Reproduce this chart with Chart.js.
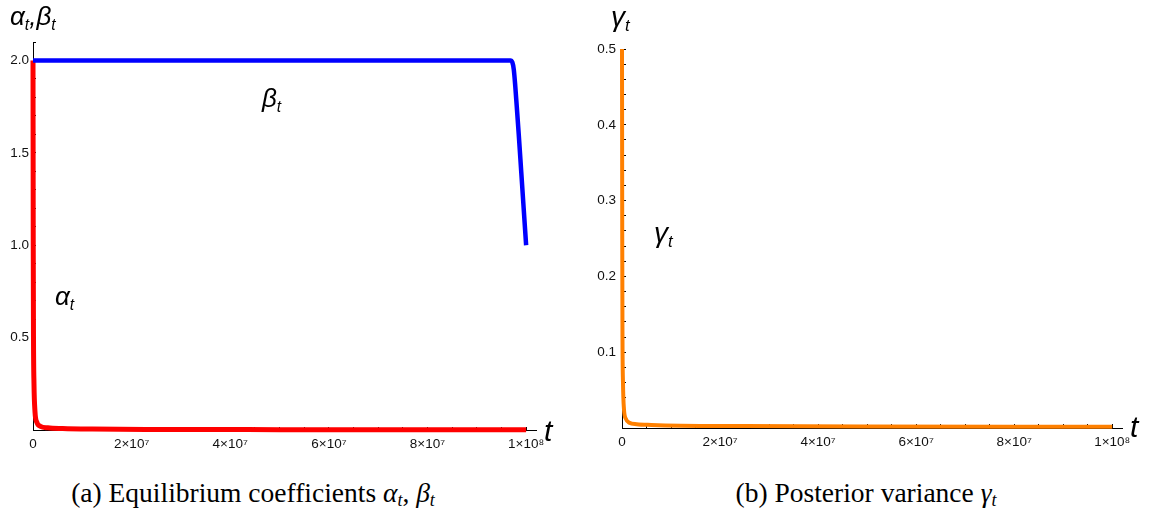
<!DOCTYPE html>
<html lang="en">
<head>
    <meta charset="UTF-8">
    <meta name="viewport" content="width=device-width, initial-scale=1.0">
    <title>Equilibrium coefficients and posterior variance</title>
    <script src="https://cdn.jsdelivr.net/npm/chart.js"></script>
    <style>
        body { margin: 0; background: #fff; }
        .page { position: relative; width: 1151px; height: 515px; overflow: hidden; font-family: "Liberation Sans", Arial, sans-serif; }
        .plot { position: absolute; top: 0; }
        .lbl { position: absolute; font-style: italic; line-height: 1; color: #000; white-space: nowrap; }
        .s { font-size: 0.6em; position: relative; top: 0.3em; }
        .cap { position: absolute; top: 479px; font-family: "Liberation Serif", "DejaVu Serif", serif; font-size: 27.5px; line-height: 1; text-align: center; white-space: nowrap; color: #000; }
        .cap .s { font-size: 0.65em; top: 0.25em; }
    </style>
</head>
<body>
<div class="page">
    <!-- (a) alpha / beta -->
    <div class="plot" style="left:0px;"><canvas id="coefChart" width="560" height="455"></canvas></div>
    <!-- (b) gamma -->
    <div class="plot" style="left:580px;"><canvas id="varChart" width="571" height="455"></canvas></div>

    <div class="lbl" style="left:10px; top:3px; font-size:26px;">α<span class="s">t</span>,β<span class="s">t</span></div>
    <div class="lbl" style="left:262px; top:85px; font-size:26px;">β<span class="s">t</span></div>
    <div class="lbl" style="left:55px; top:283px; font-size:26px;">α<span class="s">t</span></div>
    <div class="lbl" style="left:544px; top:416px; font-size:30px;">t</div>

    <div class="lbl" style="left:611px; top:3px; font-size:28px;">γ<span class="s">t</span></div>
    <div class="lbl" style="left:654px; top:219px; font-size:28px;">γ<span class="s">t</span></div>
    <div class="lbl" style="left:1130px; top:412px; font-size:30px;">t</div>

    <div class="cap" style="left:0px; width:506px;">(a) Equilibrium coefficients <i>α<span class="s">t</span></i>, <i>β<span class="s">t</span></i></div>
    <div class="cap" style="left:621px; width:490px;">(b) Posterior variance <i>γ<span class="s">t</span></i></div>
</div>

<script>
    // tick labels
    const xTickValues = [0, 2e7, 4e7, 6e7, 8e7, 1e8];
    const xTickLabels = ['0', '2×10⁷', '4×10⁷', '6×10⁷', '8×10⁷', '1×10⁸'];
    const xMinorStep = 5e6;
    const coefTickValues = [0.5, 1.0, 1.5, 2.0];
    const coefTickLabels = ['0.5', '1.0', '1.5', '2.0'];
    const varTickValues = [0.1, 0.2, 0.3, 0.4, 0.5];
    const varTickLabels = ['0.1', '0.2', '0.3', '0.4', '0.5'];

    // series
    const tAlpha = [0, 5e4, 1e5, 2e5, 4e5, 8e5, 1.5e6, 3e6, 6e6, 1.2e7, 2.5e7, 5e7, 1e8];
    const alphaValues = [2.0, 1.0, 0.5, 0.25, 0.1, 0.04, 0.02, 0.012, 0.008, 0.005, 0.003, 0.002, 0.001];
    const tBeta = [0, 9.5e7, 9.68e7, 9.72e7, 9.75e7, 9.78e7, 9.81e7, 9.85e7, 9.9e7, 9.95e7, 1e8];
    const betaValues = [2.0, 2.0, 2.0, 1.99, 1.95, 1.86, 1.75, 1.6, 1.4, 1.2, 1.0];
    const tGamma = [0, 5e4, 1e5, 2e5, 4e5, 8e5, 1.5e6, 3e6, 6e6, 1.2e7, 2.5e7, 5e7, 1e8];
    const gammaValues = [0.5, 0.25, 0.12, 0.06, 0.025, 0.012, 0.007, 0.005, 0.004, 0.003, 0.0025, 0.002, 0.0015];

    const toPoints = (xs, ys) => xs.map((x, i) => ({ x: x, y: ys[i] }));

    function labelFor(values, labels, v) {
        const i = values.findIndex(a => Math.abs(a - v) <= 1e-9 * Math.max(1, Math.abs(a)));
        return i >= 0 ? labels[i] : '';
    }

    function lineSet(data, color, width) {
        return {
            data: data,
            borderColor: color,
            borderWidth: width,
            pointRadius: 0,
            fill: false,
            clip: false,
            cubicInterpolationMode: 'monotone',
            borderJoinStyle: 'round'
        };
    }

    function makeOptions(c) {
        const font = { family: c.fontFamily, size: c.fontSize };
        const lastX = xTickValues[xTickValues.length - 1];
        return {
            responsive: false,
            animation: false,
            events: [],
            layout: { padding: c.padding },
            plugins: { legend: { display: false }, tooltip: { enabled: false } },
            scales: {
                x: {
                    type: 'linear', min: 0, max: lastX * 1.02, z: c.z,
                    border: { display: true, color: '#000', width: 1 },
                    grid: { drawOnChartArea: false, drawTicks: true, tickLength: c.tickLen, tickColor: '#000' },
                    ticks: {
                        autoSkip: false, maxRotation: 0, padding: c.xPad,
                        color: '#111', font: font,
                        callback: v => labelFor(xTickValues, xTickLabels, v)
                    },
                    // minor ticks every 5e6 up to the last labelled value
                    afterBuildTicks: s => {
                        const n = Math.round(lastX / xMinorStep);
                        s.ticks = Array.from({ length: n + 1 }, (_, i) => ({ value: i * xMinorStep }));
                    },
                    afterFit: s => { s.height = c.xHeight; }
                },
                y: {
                    type: 'linear', min: 0, max: c.yMax, z: c.z,
                    border: { display: true, color: '#000', width: 1 },
                    grid: { drawOnChartArea: false, drawTicks: true, tickLength: c.tickLen, tickColor: '#000' },
                    ticks: {
                        stepSize: c.yStep, autoSkip: false, padding: c.yPad,
                        color: '#111', font: font,
                        callback: v => labelFor(c.yValues, c.yLabels, v)
                    },
                    afterFit: s => { s.width = c.yWidth; }
                }
            }
        };
    }

    new Chart(document.getElementById('coefChart'), {
        type: 'line',
        data: {
            datasets: [
                lineSet(toPoints(tBeta, betaValues), '#0000ff', 4.5),
                lineSet(toPoints(tAlpha, alphaValues), '#ff0000', 5)
            ]
        },
        options: makeOptions({
            padding: { left: 0, right: 24, top: 42, bottom: 0 },
            fontFamily: '"Liberation Sans Narrow", "Liberation Sans", Arial, sans-serif',
            fontSize: 13.5, tickLen: -3, xPad: 9, yPad: 7, z: 0,
            xHeight: 25, yWidth: 33, yMax: 2.1, yStep: 0.1,
            yValues: coefTickValues, yLabels: coefTickLabels
        })
    });

    new Chart(document.getElementById('varChart'), {
        type: 'line',
        data: {
            datasets: [
                lineSet(toPoints(tGamma, gammaValues), '#ff8000', 4)
            ]
        },
        options: makeOptions({
            padding: { left: 0, right: 29, top: 49, bottom: 0 },
            fontFamily: '"Liberation Sans", Arial, sans-serif',
            fontSize: 13.5, tickLen: -4, xPad: 10, yPad: 10, z: 1,
            xHeight: 27, yWidth: 42, yMax: 0.5, yStep: 0.02,
            yValues: varTickValues, yLabels: varTickLabels
        })
    });
</script>
</body>
</html>
